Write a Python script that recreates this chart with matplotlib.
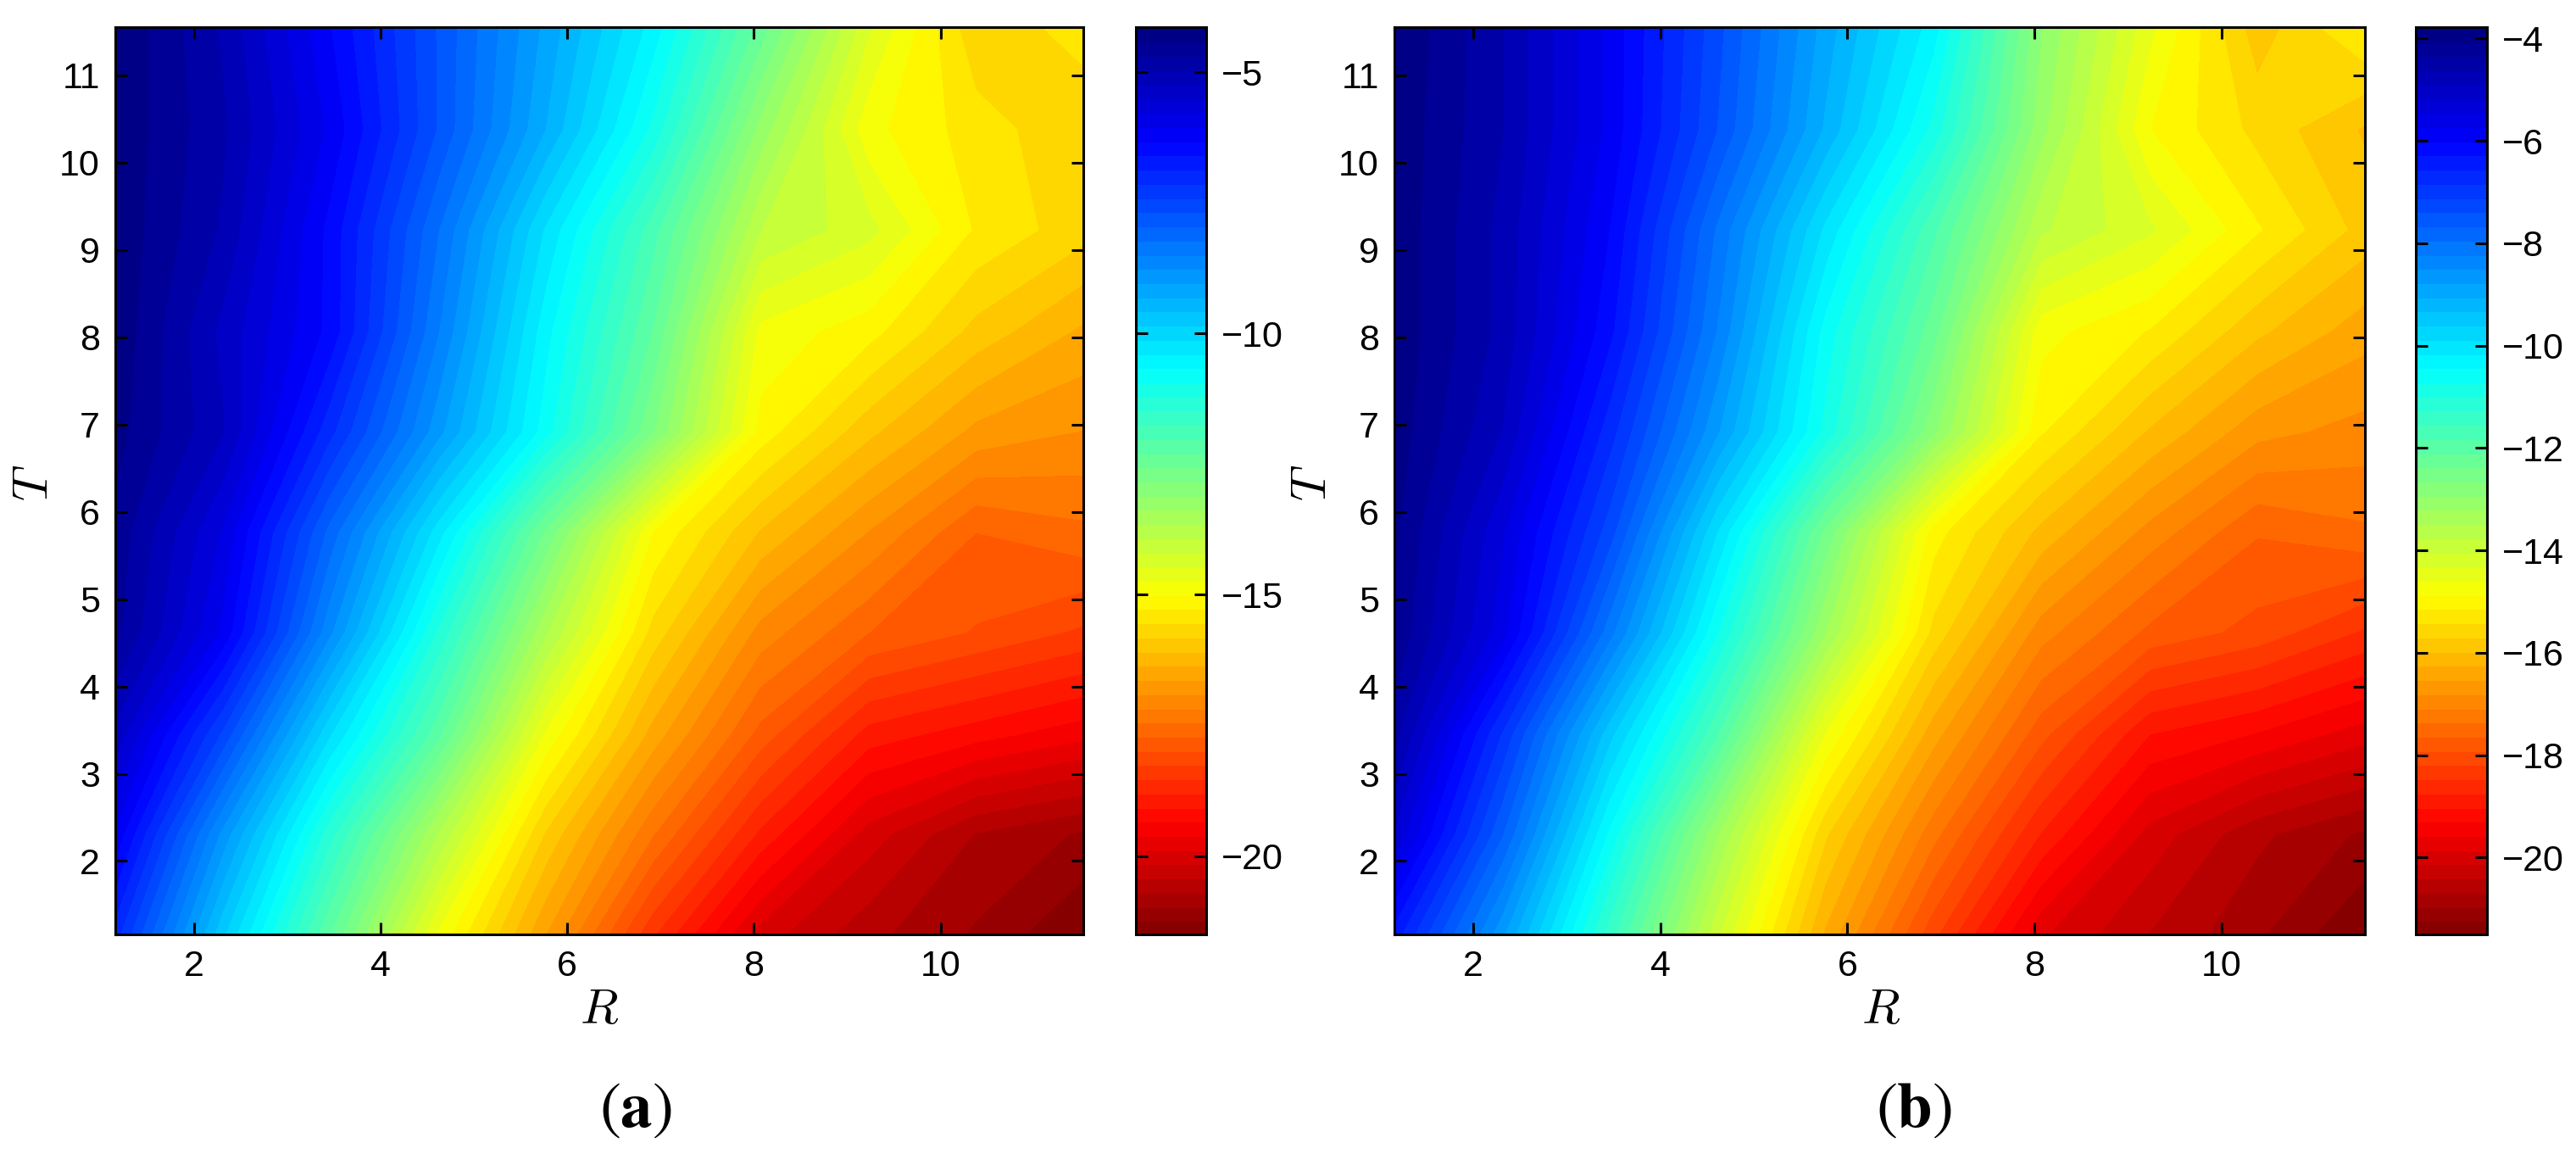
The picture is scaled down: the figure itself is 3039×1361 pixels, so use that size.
import numpy as np
import matplotlib
matplotlib.use("Agg")
import matplotlib.pyplot as plt
from matplotlib.colors import ListedColormap

plt.rcParams["font.family"] = ["Liberation Sans", "DejaVu Sans"]

W, H = 3039, 1361

r_grid = [1.16, 2.31, 3.46, 4.62, 5.77, 6.92, 8.07, 9.23, 10.38, 11.53]
t_grid = [1.16, 2.31, 3.46, 4.62, 5.77, 6.92, 8.07, 9.23, 10.38, 11.55]

# rows go with t_grid, bottom to top
z_a = [
    [-7.0, -9.78, -12.28, -14.78, -16.62, -18.48, -20.0, -20.6, -21.0, -21.5],
    [-6.1, -8.84, -11.37, -13.66, -15.84, -17.41, -18.85, -20.0, -20.7, -21.0],
    [-5.3, -7.45, -10.08, -12.2, -14.76, -16.46, -17.8, -18.9, -19.2, -19.5],
    [-4.6, -6.1, -8.7, -11.24, -13.6, -15.64, -17.0, -17.7, -18.0, -18.3],
    [-4.5, -5.8, -8.04, -10.26, -12.6, -15.0, -16.1, -16.9, -17.7, -17.5],
    [-4.3, -5.2, -7.04, -8.93, -10.8, -12.8, -15.1, -16.0, -16.7, -16.9],
    [-4.2, -5.3, -6.4, -8.47, -10.55, -12.3, -14.8, -15.15, -15.9, -16.4],
    [-4.2, -5.0, -6.4, -8.2, -10.15, -11.9, -13.9, -14.35, -15.3, -15.7],
    [-4.2, -4.9, -6.1, -7.7, -9.3, -11.0, -13.2, -14.9, -15.4, -15.75],
    [-4.15, -5.0, -6.3, -7.7, -9.1, -10.5, -12.4, -14.4, -15.75, -15.4],
]
z_b = [
    [-6.4, -8.7, -11.4, -14.0, -16.3, -18.1, -19.8, -20.4, -20.9, -21.5],
    [-5.2, -7.63, -10.5, -13.2, -15.65, -17.25, -18.75, -19.95, -20.6, -21.0],
    [-4.5, -6.85, -9.5, -11.8, -14.6, -16.4, -17.8, -19.0, -19.3, -19.7],
    [-4.1, -5.6, -8.1, -10.7, -13.2, -15.5, -16.95, -17.7, -18.0, -18.5],
    [-4.0, -5.4, -7.25, -9.9, -12.45, -15.0, -16.05, -16.9, -17.6, -17.4],
    [-3.9, -4.9, -6.7, -8.75, -10.8, -12.85, -15.1, -16.0, -16.7, -16.9],
    [-3.85, -4.7, -6.2, -8.25, -10.55, -12.25, -14.75, -15.15, -15.9, -16.4],
    [-3.85, -4.7, -6.0, -8.0, -9.95, -11.75, -13.7, -14.25, -15.1, -15.8],
    [-3.85, -4.6, -5.8, -7.4, -9.1, -10.8, -13.1, -14.85, -15.5, -16.0],
    [-3.8, -4.6, -5.8, -7.3, -8.9, -10.3, -12.9, -14.5, -15.85, -15.1],
]

range_a = (-21.5, -4.14)
range_b = (-21.5, -3.78)
cbar_ticks_a = [-20, -15, -10, -5]
cbar_ticks_b = [-20, -18, -16, -14, -12, -10, -8, -6, -4]
x_ticks = [2, 4, 6, 8, 10]
y_ticks = [2, 3, 4, 5, 6, 7, 8, 9, 10, 11]


def matlab_jet_r(n=64):
    # same knots as matlab jet, flipped so high values are blue
    x = (np.arange(n) + 0.5) / n
    r = np.interp(x, [0.375, 0.625, 0.875, 1.0], [0, 1, 1, 0.5])
    g = np.interp(x, [0.125, 0.375, 0.625, 0.875], [0, 1, 1, 0])
    b = np.interp(x, [0.0, 0.125, 0.375, 0.625], [0.5, 1, 1, 0])
    return ListedColormap(np.column_stack([r, g, b])[::-1])


def px_axes(fig, x0, x1, y0, y1):
    return fig.add_axes([x0 / W, 1 - y1 / H, (x1 - x0) / W, (y1 - y0) / H])


def panel(fig, z, vrange, cticks, box, cbox, xlab_x, ylab_x, tag, tag_x):
    ax = px_axes(fig, box[0], box[1], 32, 1102)
    cax = px_axes(fig, cbox[0], cbox[1], 32, 1102)
    levels = np.linspace(vrange[0], vrange[1], 65)
    cs = ax.contourf(r_grid, t_grid, np.clip(z, vrange[0], vrange[1]), levels=levels,
                     cmap=matlab_jet_r())
    ax.set_xlim(1.16, 11.53)
    ax.set_ylim(1.16, 11.55)
    ax.set_xticks(x_ticks)
    ax.set_yticks(y_ticks)
    ax.tick_params(direction="in", top=True, right=True, length=10, width=2.2,
                   labelsize=31, pad=13)
    cb = fig.colorbar(cs, cax=cax, ticks=cticks)
    cb.set_ticklabels(["\u2212%d" % abs(t) for t in cticks])
    cb.solids.set_edgecolor("face")
    cax.set_ylim(vrange)
    cax.tick_params(direction="in", left=True, right=True, length=10, width=2.2,
                    labelsize=31, pad=13)
    for a in (ax, cax):
        for s in a.spines.values():
            s.set_linewidth(2.2)
    cb.outline.set_linewidth(2.2)
    fig.text(xlab_x / W, 1 - 1192 / H, "$R$", math_fontfamily="cm", fontsize=42,
             ha="center", va="center")
    fig.text(ylab_x / W, 1 - 569 / H, "$T$", math_fontfamily="cm", fontsize=42,
             ha="center", va="center", rotation=90)
    fig.text(tag_x / W, 1 - 1310 / H, r"$(\mathbf{%s})$" % tag, math_fontfamily="stix",
             fontsize=54, ha="center", va="center")


fig = plt.figure(figsize=(W / 100, H / 100), dpi=100)
panel(fig, z_a, range_a, cbar_ticks_a, (136, 1278), (1340, 1423), 707, 41, "a", 750)
panel(fig, z_b, range_b, cbar_ticks_b, (1645, 2790), (2850, 2934), 2219, 1549, "b", 2258)
fig.savefig("out.png", dpi=100)
